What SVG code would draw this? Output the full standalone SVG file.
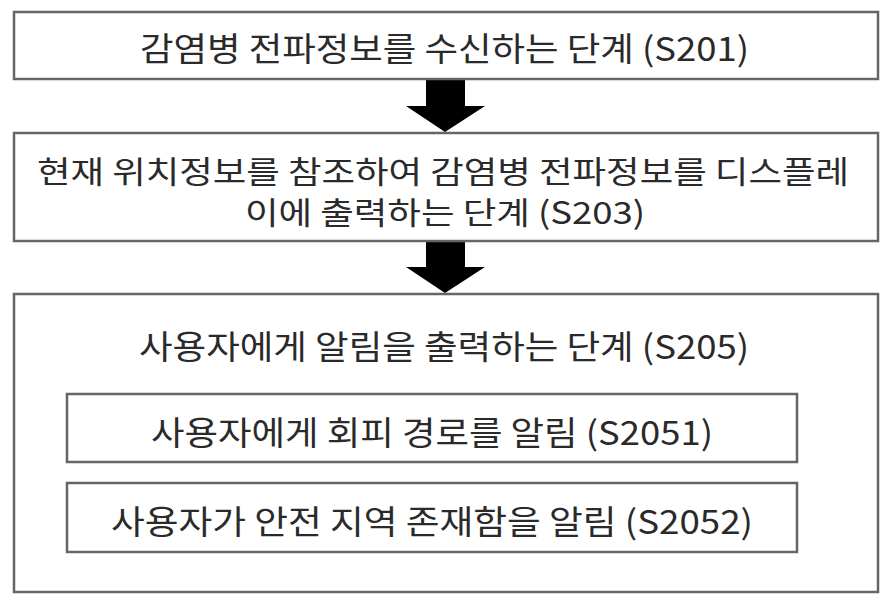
<svg xmlns="http://www.w3.org/2000/svg" width="890" height="604" viewBox="0 0 890 604">
<style>
.box{fill:#fff;stroke:#666;stroke-width:2.5}
.t{font-family:"Noto Sans CJK KR","Noto Sans",sans-serif;font-size:33px;fill:#2a2a2a;dominant-baseline:central}
.arr{fill:#000}
</style>
<rect width="890" height="604" fill="#fff"/>
<g id="connectors">
<polygon class="arr" points="426,79 465,79 465,106 485,106 445,132 406,106 426,106"/>
<polygon class="arr" points="426,241 465,241 465,267 485,267 445,293 406,267 426,267"/>
</g>
<g id="s201">
<rect class="box" x="14" y="12" width="864" height="67"/>
<text class="t" x="140" y="47" textLength="609" lengthAdjust="spacingAndGlyphs">감염병 전파정보를 수신하는 단계 (S201)</text>
</g>
<g id="s203">
<rect class="box" x="14" y="133" width="864" height="108"/>
<text class="t" style="font-size:31px"><tspan x="37" y="169" textLength="812" lengthAdjust="spacingAndGlyphs">현재 위치정보를 참조하여 감염병 전파정보를 디스플레</tspan><tspan x="245" y="210" textLength="400" lengthAdjust="spacingAndGlyphs">이에 출력하는 단계 (S203)</tspan></text>
</g>
<g id="s205">
<rect class="box" x="14" y="294" width="864" height="298"/>
<text class="t" x="139" y="345" textLength="610" lengthAdjust="spacingAndGlyphs">사용자에게 알림을 출력하는 단계 (S205)</text>
</g>
<g id="s2051">
<rect class="box" x="67" y="394" width="730" height="68"/>
<text class="t" x="151" y="431" textLength="562" lengthAdjust="spacingAndGlyphs">사용자에게 회피 경로를 알림 (S2051)</text>
</g>
<g id="s2052">
<rect class="box" x="67" y="483" width="730" height="69"/>
<text class="t" x="111" y="520" textLength="642" lengthAdjust="spacingAndGlyphs">사용자가 안전 지역 존재함을 알림 (S2052)</text>
</g>
</svg>
